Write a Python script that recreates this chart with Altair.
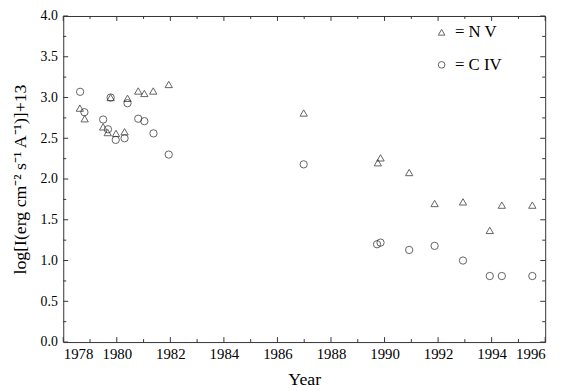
import altair as alt
import pandas as pd

# ---- data ----
years_nv = [1978.62, 1978.80, 1979.49, 1979.66, 1979.77, 1979.97, 1980.29, 1980.40,
            1980.80, 1981.03, 1981.36, 1981.94, 1986.98, 1989.85, 1989.75, 1990.92,
            1991.87, 1992.93, 1993.93, 1994.38, 1995.52]
vals_nv = [2.87, 2.74, 2.64, 2.57, 3.00, 2.56, 2.58, 2.99,
           3.08, 3.05, 3.08, 3.16, 2.81, 2.26, 2.20, 2.08,
           1.70, 1.72, 1.37, 1.68, 1.68]
years_civ = [1978.63, 1978.79, 1979.49, 1979.67, 1979.77, 1979.96, 1980.29, 1980.40,
             1980.80, 1981.03, 1981.37, 1981.94, 1986.98, 1989.72, 1989.85, 1990.92,
             1991.87, 1992.93, 1993.93, 1994.38, 1995.52]
vals_civ = [3.07, 2.82, 2.73, 2.61, 3.00, 2.48, 2.50, 2.93,
            2.74, 2.71, 2.56, 2.30, 2.18, 1.20, 1.22, 1.13,
            1.18, 1.00, 0.81, 0.81, 0.81]
series_names = ["N V", "C IV"]

x_major = [1978, 1980, 1982, 1984, 1986, 1988, 1990, 1992, 1994, 1996]
x_minor = [1979, 1981, 1983, 1985, 1987, 1989, 1991, 1993, 1995]
y_major = [0.0, 0.5, 1.0, 1.5, 2.0, 2.5, 3.0, 3.5, 4.0]
y_minor = [0.25, 0.75, 1.25, 1.75, 2.25, 2.75, 3.25, 3.75]

X_DOMAIN = [1978, 1996]
Y_DOMAIN = [0, 4]

W = 488.5
H = 330.5
FONT = "Liberation Serif"
INK = "#222222"

points = pd.DataFrame({
    "year": years_nv + years_civ,
    "value": vals_nv + vals_civ,
    "line": [series_names[0]] * len(years_nv) + [series_names[1]] * len(years_civ),
})

# inward tick marks, built from the tick lists (lengths converted to data units)
px_x = W / (X_DOMAIN[1] - X_DOMAIN[0])
px_y = H / (Y_DOMAIN[1] - Y_DOMAIN[0])
rows = []
for vals, ln in ((x_major, 5), (x_minor, 3)):
    for v in vals:
        rows.append({"x": v, "x2": v, "y": Y_DOMAIN[0], "y2": Y_DOMAIN[0] + ln / px_y})
        rows.append({"x": v, "x2": v, "y": Y_DOMAIN[1], "y2": Y_DOMAIN[1] - ln / px_y})
for vals, ln in ((y_major, 5), (y_minor, 3)):
    for v in vals:
        rows.append({"x": X_DOMAIN[0], "x2": X_DOMAIN[0] + ln / px_x, "y": v, "y2": v})
        rows.append({"x": X_DOMAIN[1], "x2": X_DOMAIN[1] - ln / px_x, "y": v, "y2": v})
ticks = pd.DataFrame(rows)

xscale = alt.Scale(domain=X_DOMAIN, nice=False, zero=False)
yscale = alt.Scale(domain=Y_DOMAIN, nice=False, zero=False)

x_axis = alt.Axis(values=x_major, format="d", ticks=False, domain=False, grid=False,
                  labelFont=FONT, labelFontSize=15, labelColor="black", labelPadding=5,
                  title="Year", titleFont=FONT, titleFontSize=18, titleFontWeight="normal",
                  titleColor="black", titlePadding=9)
y_axis = alt.Axis(values=y_major, format=".1f", ticks=False, domain=False, grid=False,
                  labelFont=FONT, labelFontSize=14, labelColor="black", labelPadding=6,
                  title="log[I(erg cm\u207b\u00b2 s\u207b\u00b9 A\u207b\u00b9)]+13",
                  titleFont=FONT, titleFontSize=18, titleFontWeight="normal",
                  titleColor="black", titlePadding=11)

tick_layer = alt.Chart(ticks).mark_rule(color="#333333", strokeWidth=1).encode(
    x=alt.X("x:Q", scale=xscale, axis=x_axis),
    x2="x2:Q",
    y=alt.Y("y:Q", scale=yscale, axis=y_axis),
    y2="y2:Q",
)

point_layer = alt.Chart(points).mark_point(filled=False, size=55, strokeWidth=1, color=INK).encode(
    x=alt.X("year:Q", scale=xscale, axis=x_axis),
    y=alt.Y("value:Q", scale=yscale, axis=y_axis),
    shape=alt.Shape("line:N",
                    scale=alt.Scale(domain=series_names, range=["triangle-up", "circle"]),
                    legend=alt.Legend(title=None, orient="none", legendX=375, legendY=8,
                                      labelExpr="'= ' + datum.label",
                                      labelFont=FONT, labelFontSize=17, labelColor="black",
                                      symbolSize=45, symbolStrokeColor=INK, symbolStrokeWidth=1,
                                      symbolFillColor="transparent",
                                      rowPadding=15, labelOffset=5)),
)

chart = alt.layer(tick_layer, point_layer).properties(
    width=W, height=H,
    autosize=alt.AutoSizeParams(type="none"),
    padding={"left": 56, "top": 5.5, "right": 14, "bottom": 47},
    background="white",
).configure(
    font=FONT,
).configure_axis(
    labelFont=FONT, titleFont=FONT,
).configure_legend(
    labelFont=FONT,
).configure_view(stroke="#333333", strokeWidth=1)

chart.save("out.html", embed_options={"renderer": "svg", "actions": False})
